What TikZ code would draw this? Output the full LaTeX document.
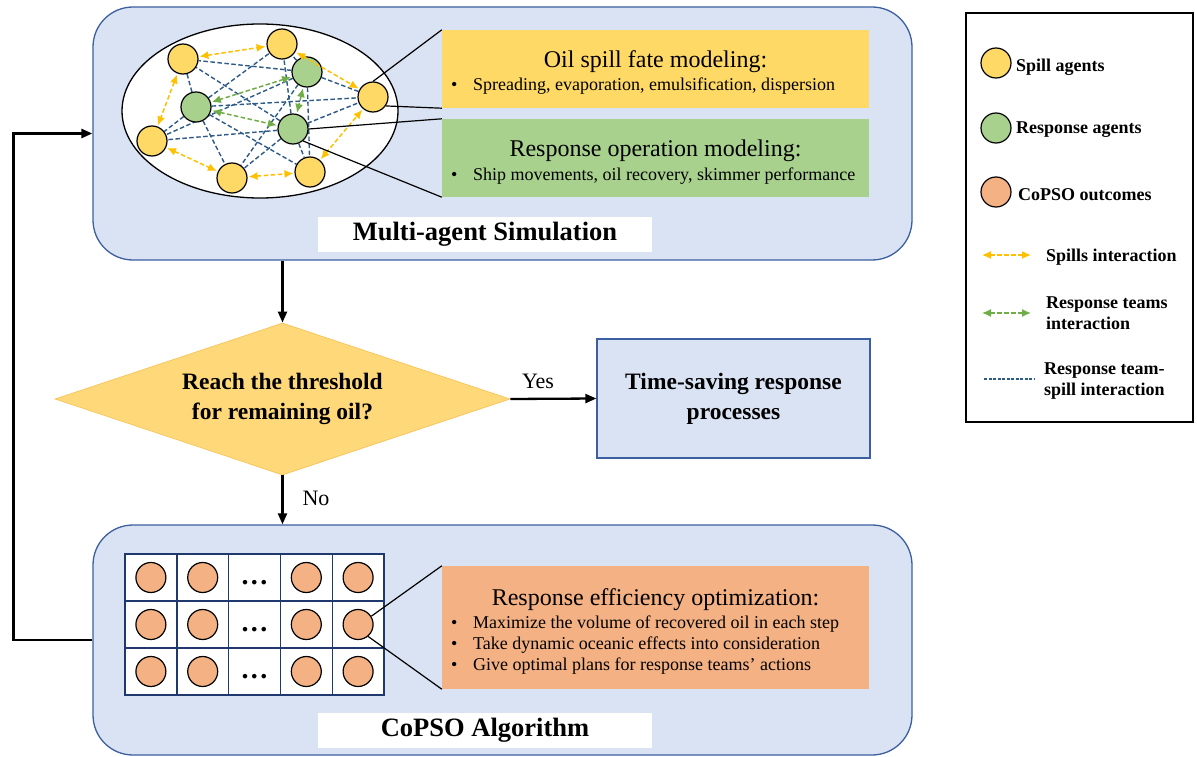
\documentclass[tikz,border=0pt]{standalone}
\usepackage{fontspec}
\setmainfont{Liberation Serif}
\usetikzlibrary{shapes.geometric,arrows.meta,calc}

\definecolor{panelfill}{RGB}{218,227,243}
\definecolor{paneldraw}{RGB}{60,95,160}
\definecolor{spill}{RGB}{255,217,102}
\definecolor{resp}{RGB}{169,209,142}
\definecolor{outc}{RGB}{244,177,131}
\definecolor{spillarrow}{RGB}{255,192,0}
\definecolor{resparrow}{RGB}{112,173,71}
\definecolor{linkblue}{RGB}{46,90,135}
\definecolor{gridnavy}{RGB}{31,56,110}
\definecolor{diafill}{RGB}{255,216,122}
\definecolor{diaedge}{RGB}{245,200,95}

\newcommand\setfs[2]{\fontsize{#1}{#2}\selectfont}

\pgfdeclarelayer{bg}
\pgfdeclarelayer{links}
\pgfsetlayers{bg,links,main}

\begin{document}
\begin{tikzpicture}[x=1pt,y=-1pt,
  panel/.style={draw=paneldraw, line width=1.3pt, fill=panelfill,
    rounded corners=40pt, minimum width=819pt, inner sep=0},
  agent/.style={circle, draw=black, line width=1.2pt, minimum size=30pt, inner sep=0},
  spillag/.style={agent, fill=spill},
  respag/.style={agent, fill=resp},
  outcag/.style={agent, fill=outc},
  link/.style={linkblue, dash pattern=on 4.5pt off 2.5pt, line width=1.4pt},
  spilllink/.style={spillarrow, dash pattern=on 4.5pt off 2.5pt, line width=1.5pt,
    {Latex[length=9pt,width=8pt]}-{Latex[length=9pt,width=8pt]},
    shorten <=1pt, shorten >=1pt},
  resplink/.style={spilllink, resparrow},
  callout/.style={black, line width=1.2pt},
  flow/.style={black, line width=2.3pt, -{Triangle[length=11pt,width=9pt]}},
  infobox/.style={minimum width=427pt, inner sep=0},
  labelbox/.style={fill=white, minimum width=334pt, minimum height=35pt, inner sep=0,
    font=\bfseries\setfs{26.5}{30}},
  titletext/.style={font=\setfs{24}{28}, inner sep=0, anchor=base},
  bullettext/.style={font=\setfs{18}{22}, inner sep=0, anchor=base west},
  plaintext/.style={font=\setfs{22}{26}, inner sep=0, anchor=base},
  legendtext/.style={font=\bfseries\setfs{18}{21}, inner sep=0, anchor=west, align=left},
  gridcell/.style={draw=gridnavy, line width=1.4pt, fill=white,
    minimum width=51.8pt, minimum height=47pt, inner sep=0},
]
\useasboundingbox (0,0) rectangle (1197,757);

% ---------- panels ----------
\begin{pgfonlayer}{bg}
\node[panel, minimum height=253pt] (sim) at (502.5,133.5) {};
\node[panel, minimum height=230pt] (cop) at (502.5,640) {};
\node[ellipse, draw=black, line width=1.3pt, fill=white,
  minimum width=276pt, minimum height=174pt] (cloud) at (260,111) {};
\end{pgfonlayer}

% ---------- agents ----------
\node[spillag] (s1) at (183,59) {};
\node[spillag] (s2) at (282,44) {};
\node[spillag] (s3) at (373,97) {};
\node[spillag] (s4) at (152,141) {};
\node[spillag] (s5) at (232,178) {};
\node[spillag] (s6) at (310,172) {};
\node[respag] (r1) at (307,72) {};
\node[respag] (r2) at (196,107) {};
\node[respag] (r3) at (293,129) {};

\begin{pgfonlayer}{links}
\foreach \r in {r1,r2,r3}
  \foreach \s in {s1,s2,s3,s4,s5,s6}
    \draw[link] (\r) -- (\s);
\end{pgfonlayer}

\draw[spilllink] (s1) -- (s2);
\draw[spilllink] (s2) -- (s3);
\draw[spilllink] (s1) -- (s4);
\draw[spilllink] (s4) -- (s5);
\draw[spilllink] (s5) -- (s6);
\draw[spilllink] (s6) -- (s3);
\draw[resplink] (r1) -- (r2);
\draw[resplink] (r1) -- (r3);
\draw[resplink] (r2) -- (r3);

% ---------- modelling boxes ----------
\node[infobox, fill=spill, minimum height=78pt] (ybox) at (655.5,69) {};
\node[infobox, fill=resp, minimum height=78pt] (gbox) at (655.5,158) {};
\node[titletext] (ytitle) at (655.5,68) {Oil spill fate modeling:};
\node[bullettext] (ybul) at (451,91) {\makebox[22pt][l]{\textbullet}Spreading, evaporation, emulsification, dispersion};
\node[titletext] (gtitle) at (655.5,157) {Response operation modeling:};
\node[bullettext] (gbul) at (451,180) {\makebox[22pt][l]{\textbullet}Ship movements, oil recovery, skimmer performance};

\draw[callout] (s3.north) -- (ybox.north west);
\draw[callout] (s3.-35) -- (ybox.south west);
\draw[callout] (r3.east) -- (gbox.north west);
\draw[callout] (r3.-50) -- (gbox.south west);

\node[labelbox] (simlabel) at (485,234) {Multi-agent Simulation};

% ---------- decision ----------
\node[diamond, fill=diafill, draw=diaedge, line width=0.8pt, aspect=3,
  minimum width=455pt, minimum height=152pt, inner sep=0,
  font=\bfseries\setfs{23.5}{30}, align=center] (dia) at (282.5,399)
  {Reach the threshold\\for remaining oil?};
\node[draw=paneldraw, line width=1.3pt, fill=panelfill, minimum width=273pt,
  minimum height=119pt, inner sep=0, font=\bfseries\setfs{23.5}{30}, align=center]
  (time) at (733.5,398.5) {Time-saving response\\processes};

\draw[flow] (sim.south -| dia.north) -- (dia.north);
\draw[flow] (dia.east) -- (time.west);
\draw[flow] (dia.south) -- (dia.south |- cop.north);
\draw[flow, line width=2.6pt] (cop.west) -- ++(-79,0) |- (sim.west);
\node[plaintext] (yes) at (538,388) {Yes};
\node[plaintext] (no) at (316,505) {No};

% ---------- CoPSO grid ----------
\foreach \row in {1,2,3}{
  \foreach \col in {1,2,3,4,5}{
    \node[gridcell] (c-\row-\col) at ({125+51.8*(\col-0.5)},{554+47*(\row-0.5)}) {};
  }
}
\foreach \row in {1,2,3}{
  \foreach \col in {1,2,4,5}{
    \node[outcag] (o-\row-\col) at (c-\row-\col) {};
  }
  \node[font=\bfseries\setfs{28}{28}, inner sep=0, anchor=base] (dots-\row)
    at ($(c-\row-3.center)+(0,7)$) {.\hspace{2.5pt}.\hspace{2.5pt}.};
}

\node[infobox, fill=outc, minimum height=123pt] (obox) at (655.5,627.5) {};
\node[titletext] (otitle) at (655.5,605) {Response efficiency optimization:};
\node[bullettext] (ob1) at (451,628) {\makebox[22pt][l]{\textbullet}Maximize the volume of recovered oil in each step};
\node[bullettext] (ob2) at (451,649) {\makebox[22pt][l]{\textbullet}Take dynamic oceanic effects into consideration};
\node[bullettext] (ob3) at (451,670) {\makebox[22pt][l]{\textbullet}Give optimal plans for response teams’ actions};

\draw[callout] (o-2-5.32) -- (obox.north west);
\draw[callout] (o-2-5.-50) -- (obox.south west);

\node[labelbox] (coplabel) at (485,730.5) {CoPSO Algorithm};

% ---------- legend ----------
\node[draw=black, line width=1.5pt, minimum width=227pt, minimum height=409pt,
  inner sep=0] (legend) at (1079.5,217.5) {};
\node[spillag] (lgs) at (996,63) {};
\node[legendtext] (lgst) at (1016,67) {Spill agents};
\node[respag] (lgr) at (996,128) {};
\node[legendtext] (lgrt) at (1016,130) {Response agents};
\node[outcag] (lgo) at (996,192) {};
\node[legendtext] (lgot) at (1018,195) {CoPSO outcomes};

\coordinate (la1) at (982,255);
\coordinate (lb1) at (1031,255);
\draw[spilllink, line width=1.3pt, shorten <=0pt, shorten >=0pt] (la1) -- (lb1);
\node[legendtext] (lst) at (1046,257) {Spills interaction};

\coordinate (la2) at (982,313);
\coordinate (lb2) at (1031,313);
\draw[resplink, line width=1.3pt, shorten <=0pt, shorten >=0pt] (la2) -- (lb2);
\node[legendtext] (lrt) at (1046,313) {Response teams\\interaction};

\coordinate (la3) at (984,379);
\coordinate (lb3) at (1034,379);
\draw[link, line width=1.1pt, dash pattern=on 3pt off 1.5pt] (la3) -- (lb3);
\node[legendtext, align=center] (lbt) at (1044,381) {Response team-\\spill interaction};
\end{tikzpicture}
\end{document}
